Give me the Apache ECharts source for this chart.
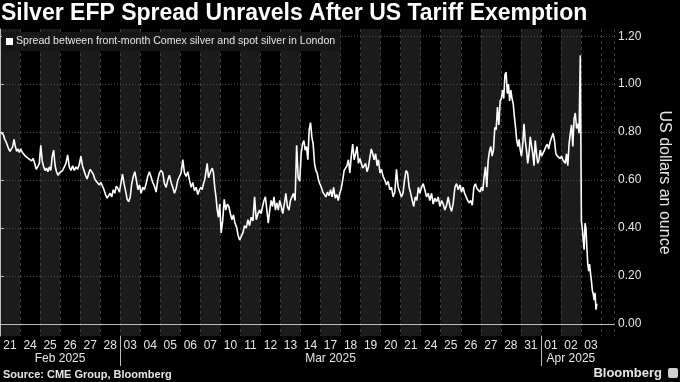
<!DOCTYPE html>
<html><head><meta charset="utf-8">
<script src="https://cdn.jsdelivr.net/npm/echarts@6/dist/echarts.min.js"></script>
<style>html,body{margin:0;padding:0;background:#000;}#c{width:680px;height:382px;}</style>
</head><body><div id="c"></div>
<script>
// ---- data ----
const dayLabels = ['21','24','25','26','27','28','03','04','05','06','07','10','11','12','13','14','17','18','19','20','21','24','25','26','27','28','31','01','02','03'];
const monthLabels = ['Feb 2025','Mar 2025','Apr 2025'];
const monthStartIdx = [0, 6, 27];
const yTicks = [0, 0.2, 0.4, 0.6, 0.8, 1.0, 1.2];
const seriesName = 'Spread between front-month Comex silver and spot silver in London';

// intraday readings of the spread (US$/oz), one array per trading day
const feb21 = [0.80, 0.805, 0.79, 0.77, 0.76, 0.745, 0.73, 0.72, 0.715, 0.74, 0.77, 0.74, 0.72, 0.73, 0.715];
const feb24 = [0.73, 0.715, 0.72, 0.70, 0.705, 0.69, 0.695, 0.68, 0.69, 0.67, 0.645, 0.655, 0.67];
const feb25 = [0.745, 0.68, 0.655, 0.64, 0.65, 0.635, 0.655, 0.64, 0.70, 0.725, 0.66, 0.635, 0.62, 0.63];
const feb26 = [0.63, 0.64, 0.635, 0.67, 0.705, 0.655, 0.64, 0.66, 0.64, 0.655, 0.645, 0.665];
const feb27 = [0.70, 0.66, 0.64, 0.62, 0.605, 0.625, 0.645, 0.64, 0.625, 0.605, 0.595, 0.60, 0.58];
const feb28 = [0.59, 0.585, 0.56, 0.54, 0.525, 0.53, 0.545, 0.53, 0.56, 0.545, 0.575, 0.565, 0.55];
const mar03 = [0.55, 0.625, 0.585, 0.555, 0.52, 0.51, 0.53, 0.585, 0.615, 0.635, 0.60, 0.56, 0.58];
const mar04 = [0.545, 0.57, 0.56, 0.585, 0.615, 0.635, 0.63, 0.59, 0.575, 0.55, 0.60, 0.63];
const mar05 = [0.64, 0.63, 0.585, 0.57, 0.60, 0.62, 0.59, 0.57, 0.545, 0.565, 0.60, 0.615];
const mar06 = [0.63, 0.685, 0.63, 0.615, 0.635, 0.60, 0.57, 0.59, 0.555, 0.57, 0.54, 0.56];
const mar07 = [0.57, 0.56, 0.585, 0.60, 0.635, 0.67, 0.61, 0.61, 0.64, 0.65, 0.63, 0.57, 0.53, 0.475, 0.445, 0.50];
const mar10 = [0.38, 0.43, 0.52, 0.475, 0.50, 0.49, 0.46, 0.435, 0.455, 0.42, 0.405, 0.37, 0.35];
const mar11 = [0.365, 0.38, 0.41, 0.40, 0.435, 0.41, 0.445, 0.43, 0.53, 0.435, 0.46, 0.475];
const mar12 = [0.46, 0.49, 0.515, 0.53, 0.475, 0.42, 0.475, 0.515, 0.49, 0.53, 0.475, 0.505, 0.475, 0.515];
const mar13 = [0.49, 0.46, 0.50, 0.545, 0.49, 0.475, 0.515, 0.53, 0.545, 0.515, 0.745, 0.61, 0.595];
const mar14 = [0.71, 0.75, 0.765, 0.725, 0.74, 0.685, 0.81, 0.84, 0.78, 0.75, 0.67, 0.64, 0.63, 0.60, 0.585];
const mar17 = [0.57, 0.55, 0.555, 0.53, 0.55, 0.535, 0.56, 0.53, 0.57, 0.525, 0.54, 0.515, 0.545];
const mar18 = [0.565, 0.60, 0.64, 0.65, 0.66, 0.685, 0.63, 0.70, 0.75, 0.685, 0.71, 0.74, 0.67, 0.69];
const mar19 = [0.67, 0.65, 0.655, 0.67, 0.635, 0.655, 0.695, 0.73, 0.71, 0.685, 0.71, 0.66, 0.685, 0.63];
const mar20 = [0.645, 0.615, 0.60, 0.58, 0.595, 0.56, 0.57, 0.53, 0.55, 0.645, 0.57, 0.55];
const mar21 = [0.53, 0.545, 0.60, 0.64, 0.63, 0.57, 0.545, 0.515, 0.49, 0.53, 0.515, 0.57, 0.545];
const mar24 = [0.57, 0.585, 0.56, 0.53, 0.545, 0.515, 0.545, 0.50, 0.525, 0.51, 0.53, 0.49];
const mar25 = [0.515, 0.50, 0.475, 0.495, 0.53, 0.49, 0.47, 0.505, 0.57, 0.585, 0.56, 0.58];
const mar26 = [0.55, 0.57, 0.545, 0.53, 0.515, 0.505, 0.515, 0.495, 0.57, 0.585, 0.565, 0.57, 0.55];
const mar27 = [0.57, 0.555, 0.615, 0.655, 0.57, 0.68, 0.72, 0.74, 0.70, 0.725, 0.82, 0.81, 0.905, 0.83, 0.93];
const mar28 = [0.94, 0.975, 0.94, 1.04, 1.05, 0.96, 1.0, 0.93, 0.975, 0.94, 0.92, 0.865, 0.82, 0.765, 0.74, 0.77, 0.725];
const mar31 = [0.70, 0.75, 0.835, 0.765, 0.725, 0.67, 0.71, 0.78, 0.785, 0.71, 0.66, 0.765, 0.71, 0.67, 0.685, 0.725];
const apr01 = [0.70, 0.705, 0.725, 0.74, 0.75, 0.73, 0.76, 0.765, 0.795, 0.765, 0.71, 0.70, 0.705, 0.69];
const apr02 = [0.70, 0.685, 0.69, 0.67, 0.71, 0.66, 0.75, 0.795, 0.83, 0.74, 0.855, 0.88, 0.815, 0.835, 0.795, 1.12];
const apr03 = [0.43, 0.40, 0.35, 0.31, 0.42, 0.40, 0.32, 0.25, 0.22, 0.25, 0.21, 0.18, 0.14, 0.125, 0.10, 0.13, 0.06, 0.085, null, null, null, null];

const spreadDays = [feb21, feb24, feb25, feb26, feb27, feb28, mar03, mar04, mar05, mar06, mar07, mar10, mar11, mar12, mar13, mar14, mar17, mar18, mar19, mar20, mar21, mar24, mar25, mar26, mar27, mar28, mar31, apr01, apr02, apr03];

// ---- build ----
const points = [];
spreadDays.forEach((arr, i) => {
  arr.forEach((v, j) => { if (v !== null) points.push([i + (j + 0.5) / arr.length, v]); });
});
const nDays = dayLabels.length;
const xMax = nDays + 0.65;
const bands = [];
for (let i = 0; i < nDays; i += 2) bands.push([{ xAxis: i }, { xAxis: i + 1 }]);
const monthEnds = monthStartIdx.slice(1).concat([nDays]);
const monthMids = monthStartIdx.map((s, k) => (s + monthEnds[k]) / 2);

const chart = echarts.init(document.getElementById('c'), null, { renderer: 'canvas' });
const FONT = '"Liberation Sans", Arial, sans-serif';
chart.setOption({
  backgroundColor: '#000',
  animation: false,
  title: {
    text: 'Silver EFP Spread Unravels After US Tariff Exemption',
    left: 1, top: 2, padding: 0,
    textStyle: { color: '#fff', fontSize: 23, fontWeight: 'bold', fontFamily: FONT }
  },
  legend: {
    data: [seriesName], left: 2, top: 32, padding: [4, 5, 4, 4],
    backgroundColor: '#161616',
    icon: 'rect', itemWidth: 7, itemHeight: 7, itemGap: 3,
    textStyle: { color: '#e6e6e6', fontSize: 10.6, fontFamily: FONT, padding: [0, 0, 0, -2] },
    selectedMode: false
  },
  grid: { left: 0, right: 56, top: 29, bottom: 46, containLabel: false },
  xAxis: [{
    type: 'value', min: 0, max: xMax, interval: 1, z: 2,
    axisLine: { show: true, lineStyle: { color: '#bdbdbd', width: 1 } },
    axisTick: { show: false },
    splitLine: { show: true, lineStyle: { color: '#3d3d3d', type: [3, 3], width: 1 } },
    axisLabel: {
      customValues: dayLabels.map((_, i) => i + 0.5),
      formatter: v => dayLabels[Math.round(v - 0.5)],
      color: '#e6e6e6', fontSize: 12, fontFamily: FONT, margin: 4
    }
  }, {
    type: 'value', min: 0, max: xMax, position: 'bottom', z: 2,
    axisLine: { show: false },
    axisTick: { show: true, customValues: monthStartIdx.slice(1), length: 30, lineStyle: { color: '#bdbdbd' } },
    splitLine: { show: false },
    axisLabel: {
      customValues: monthMids,
      formatter: v => monthLabels[monthMids.indexOf(v)],
      color: '#e6e6e6', fontSize: 12, fontFamily: FONT, margin: 17
    }
  }],
  yAxis: {
    type: 'value', position: 'right', min: -0.05, max: 1.23, z: 2,
    axisLine: { show: true, lineStyle: { color: '#bdbdbd' } },
    axisTick: { show: true, customValues: yTicks, length: 4, lineStyle: { color: '#bdbdbd' } },
    axisLabel: { customValues: yTicks, formatter: v => v.toFixed(2), color: '#e6e6e6', fontSize: 12, fontFamily: FONT, margin: 4 },
    splitLine: { show: false },
    name: 'US dollars an ounce', nameLocation: 'middle', nameRotate: -90, nameGap: 42,
    nameTextStyle: { color: '#e6e6e6', fontSize: 16, fontFamily: FONT }
  },
  series: [{
    type: 'line', data: [], silent: true,
    markArea: { silent: true, z: 1, itemStyle: { color: '#1b1b1b' }, data: bands },
    markLine: {
      silent: true, z: 1.5, symbol: 'none', label: { show: false },
      lineStyle: { color: '#4a4a4a', type: [1, 2], width: 1 },
      data: yTicks.map(v => ({ yAxis: v }))
    }
  }, {
    name: seriesName, type: 'line', data: points, z: 3,
    showSymbol: false, symbol: 'none',
    lineStyle: { color: '#ffffff', width: 1.6 },
    itemStyle: { color: '#ffffff' }
  }],
  graphic: [{
    type: 'text', left: 3, bottom: 2,
    style: { text: 'Source: CME Group, Bloomberg', fill: '#e6e6e6', font: 'bold 11px "Liberation Sans", Arial, sans-serif' }
  }, {
    type: 'text', right: 18, bottom: 2,
    style: { text: 'Bloomberg', fill: '#e6e6e6', font: 'bold 13px "Liberation Sans", Arial, sans-serif' }
  }, {
    type: 'rect', right: 2, bottom: 4, shape: { width: 10, height: 10, r: 2 }, style: { fill: '#d0d0d0' }
  }]
});
</script></body></html>
